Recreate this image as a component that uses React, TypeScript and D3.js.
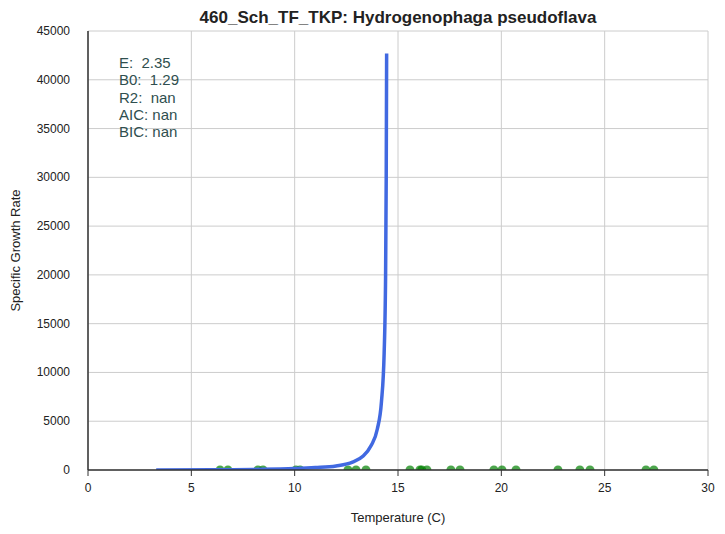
import * as d3 from 'd3'

const pointsX = [6.39, 6.77, 8.22, 8.47, 10.06, 10.26, 12.58, 12.97, 13.45, 15.58, 16.06, 16.15, 16.4, 17.56, 18.0, 19.64, 20.03, 20.71, 22.74, 23.8, 24.29, 27.0, 27.38]
const pointsY = pointsX.map(() => 0)
const curveX = [3.3, 6, 8, 10, 11, 12, 12.8, 13.3, 13.7, 14.0, 14.2, 14.33, 14.4, 14.43, 14.45]
const curveY = [0, 20, 60, 150, 250, 420, 800, 1400, 2500, 4200, 7000, 12000, 20000, 30000, 42700]
const xTicks = [0, 5, 10, 15, 20, 25, 30]
const yTicks = [0, 5000, 10000, 15000, 20000, 25000, 30000, 35000, 40000, 45000]
const stats = ['E:  2.35', 'B0:  1.29', 'R2:  nan', 'AIC: nan', 'BIC: nan']

const W = 725, H = 534
const m = { l: 88, r: 17, t: 31, b: 64 }

export default function App() {
  const x = d3.scaleLinear().domain([0, 30]).range([m.l, W - m.r])
  const y = d3.scaleLinear().domain([0, 45000]).range([H - m.b, m.t])
  const line = d3.line<number>().x((_, i) => x(curveX[i])).y((d) => y(d)).curve(d3.curveMonotoneX)
  const font = 'Arial, Liberation Sans, sans-serif'
  return (
    <svg width={W} height={H} style={{ position: 'absolute', left: 0, top: 0, fontFamily: font }}>
      <defs>
        <clipPath id="c"><rect x={m.l} y={m.t} width={W - m.l - m.r} height={H - m.t - m.b} /></clipPath>
      </defs>
      {xTicks.map((t) => <line key={t} x1={x(t)} x2={x(t)} y1={m.t} y2={H - m.b} stroke="#ccc" />)}
      {yTicks.map((t) => <line key={t} x1={m.l} x2={W - m.r} y1={y(t)} y2={y(t)} stroke="#ccc" />)}
      <g clipPath="url(#c)">
        {pointsX.map((px, i) => <circle key={i} cx={x(px)} cy={y(pointsY[i])} r={4.5} fill="green" opacity={0.7} />)}
        <path d={line(curveY) || ''} fill="none" stroke="royalblue" strokeWidth={3.5} />
      </g>
      <line x1={m.l} x2={m.l} y1={m.t} y2={H - m.b} stroke="#333" strokeWidth={1.5} />
      <line x1={m.l} x2={W - m.r} y1={H - m.b} y2={H - m.b} stroke="#333" strokeWidth={1.5} />
      {xTicks.map((t) => (
        <g key={t}>
          <line x1={x(t)} x2={x(t)} y1={H - m.b} y2={H - m.b + 6} stroke="#333" />
          <text x={x(t)} y={H - m.b + 22} textAnchor="middle" fontSize={12} fill="#222">{t}</text>
        </g>
      ))}
      {yTicks.map((t) => (
        <text key={t} x={m.l - 18} y={y(t) + 4} textAnchor="end" fontSize={12} fill="#222">{t}</text>
      ))}
      <text x={(m.l + W - m.r) / 2} y={23} textAnchor="middle" fontSize={17} fontWeight="bold" fill="#222">460_Sch_TF_TKP: Hydrogenophaga pseudoflava</text>
      <text x={(m.l + W - m.r) / 2} y={522} textAnchor="middle" fontSize={13} fill="#222">Temperature (C)</text>
      <text transform={`translate(20,${(m.t + H - m.b) / 2}) rotate(-90)`} textAnchor="middle" fontSize={13} fill="#222">Specific Growth Rate</text>
      {stats.map((s, i) => (
        <text key={i} x={119} y={68 + i * 17.3} fontSize={15} fill="darkslategray" style={{ whiteSpace: 'pre' }}>{s}</text>
      ))}
    </svg>
  )
}
